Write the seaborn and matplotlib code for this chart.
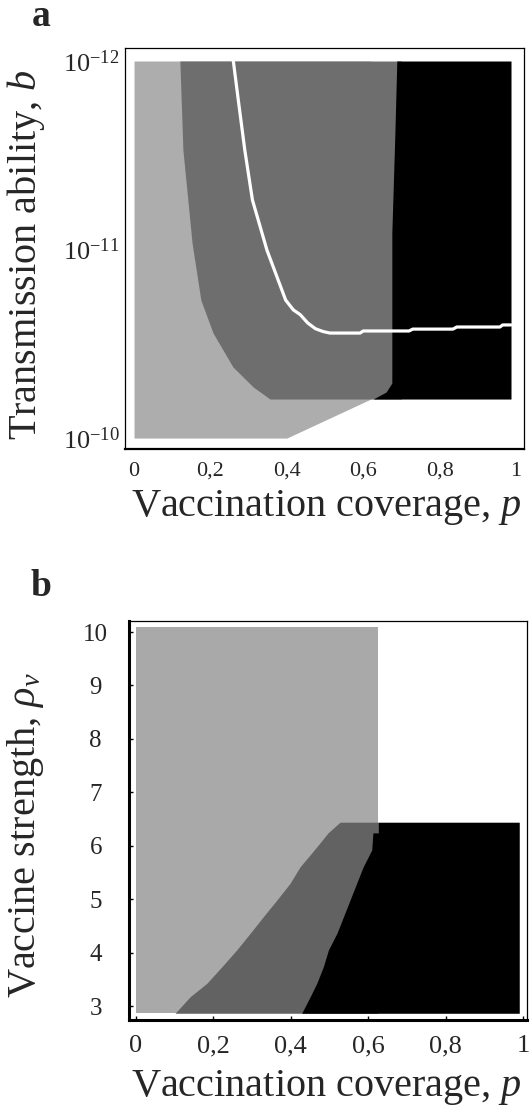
import numpy as np
import matplotlib
matplotlib.use("Agg")
import matplotlib.pyplot as plt
from matplotlib.ticker import NullLocator
import seaborn as sns

# ---------------- data ----------------
# panel a : regions in (p, log10 b)
a_light_e = [-12.0, -10.207, -10.0]
a_light_right = [0.62, 0.62, 0.40]
a_dark_e = [-12.0, -11.528, -11.034, -10.732, -10.557, -10.377, -10.271, -10.207]
a_dark_left = [0.120, 0.128, 0.152, 0.175, 0.207, 0.259, 0.312, 0.356]
a_dark_right = 0.70
a_black_e = [-12.0, -11.618, -11.088, -10.292, -10.244, -10.207]
a_black_left = [0.688, 0.683, 0.675, 0.675, 0.660, 0.626]
a_black_right = 0.987
# white threshold curve
a_curve_p = [0.26, 0.273, 0.29, 0.31, 0.348, 0.397, 0.417, 0.435, 0.455, 0.475,
             0.495, 0.513, 0.592, 0.60, 0.72, 0.73, 0.835, 0.845, 0.958, 0.965, 0.987]
a_curve_e = [-12.0, -11.793, -11.528, -11.263, -10.997, -10.732, -10.68, -10.655,
             -10.61, -10.58, -10.565, -10.557, -10.557, -10.568, -10.568, -10.578,
             -10.578, -10.589, -10.589, -10.600, -10.600]

# panel b : regions in (p, rho_v)
b_light_rho = [2.87, 10.1]
b_light_right = 0.625
b_dark_rho = [2.864, 3.174, 3.425, 3.736, 4.048, 4.361, 4.672, 4.984, 5.297, 5.607,
              5.83, 6.05, 6.24, 6.44]
b_dark_left = [0.101, 0.140, 0.183, 0.222, 0.260, 0.295, 0.329, 0.364, 0.398, 0.424,
               0.450, 0.475, 0.496, 0.527]
b_dark_right = 0.625
b_black_rho = [2.864, 3.174, 3.425, 3.736, 4.048, 4.361, 4.672, 4.984, 5.297, 5.607,
               5.920, 6.24, 6.24, 6.44]
b_black_left = [0.428, 0.450, 0.467, 0.484, 0.497, 0.519, 0.536, 0.553, 0.570, 0.587,
                0.609, 0.612, 0.625, 0.625]
b_black_right = 0.99

p_ticks = [0, 0.2, 0.4, 0.6, 0.8, 1]
p_labels = ["0", "0,2", "0,4", "0,6", "0,8", "1"]
b_ticks = [1e-12, 1e-11, 1e-10]
b_labels = [r"$10^{-12}$", r"$10^{-11}$", r"$10^{-10}$"]
rho_ticks = [3, 4, 5, 6, 7, 8, 9, 10]

LIGHT_A, DARK_A = "#adadad", "#6e6e6e"
LIGHT_B, DARK_B = "#a9a9a9", "#626262"

sns.set_theme(style="ticks")
plt.rcParams["font.family"] = ["Liberation Serif", "DejaVu Serif"]
plt.rcParams["mathtext.fontset"] = "custom"
plt.rcParams["mathtext.rm"] = "Liberation Serif"
plt.rcParams["mathtext.it"] = "Liberation Serif:italic"

fig = plt.figure(figsize=(5.29, 11.10), dpi=100)
W, H = 529, 1110

# ---------------- panel a ----------------
ax = fig.add_axes([125 / W, 1 - 449 / H, 399 / W, 401 / H])
ax.set_yscale("log")
le = 10.0 ** np.array(a_light_e)
ax.fill_betweenx(le, 0, a_light_right, color=LIGHT_A, lw=0)
de = 10.0 ** np.array(a_dark_e)
ax.fill_betweenx(de, a_dark_left, a_dark_right, color=DARK_A, lw=0)
be = 10.0 ** np.array(a_black_e)
ax.fill_betweenx(be, a_black_left, a_black_right, color="black", lw=0)
sns.lineplot(x=a_curve_p, y=10.0 ** np.array(a_curve_e), color="white", lw=2.3, ax=ax)

ax.set_xlim(-0.0236, 1.021)
ax.set_ylim(10 ** -9.942, 10 ** -12.069)
ax.set_xticks(p_ticks)
ax.set_xticklabels(p_labels, fontsize=16)
ax.set_yticks(b_ticks)
ax.set_yticklabels(b_labels, fontsize=19)
ax.yaxis.set_minor_locator(NullLocator())
ax.tick_params(axis="x", length=0, pad=9)
ax.tick_params(axis="y", length=0, pad=4)
for s in ax.spines.values():
    s.set_linewidth(0.9)
    s.set_color("black")
ax.spines["bottom"].set_linewidth(1.6)
ax.set_xlabel("Vaccination coverage, $p$", fontsize=29)
ax.xaxis.set_label_coords(0.504, -0.147)
ax.xaxis.label.set_va("center")
ax.set_ylabel("Transmission ability, $b$", fontsize=29)
ax.yaxis.set_label_coords(-0.248, 0.484)
ax.yaxis.label.set_va("center")
fig.text(41 / W, 1 - 17 / H, "a", fontsize=27, fontweight="bold", ha="center", va="center")

# ---------------- panel b ----------------
ax = fig.add_axes([129 / W, 1 - 1020 / H, 398 / W, 399 / H])
ax.fill_betweenx(b_light_rho, 0, b_light_right, color=LIGHT_B, lw=0)
ax.fill_betweenx(b_dark_rho, b_dark_left, b_dark_right, color=DARK_B, lw=0)
ax.fill_betweenx(b_black_rho, b_black_left, b_black_right, color="black", lw=0)

ax.set_xlim(-0.018, 1.010)
ax.set_ylim(2.738, 10.206)
ax.set_xticks(p_ticks)
ax.set_xticklabels(p_labels, fontsize=19)
ax.set_yticks(rho_ticks)
ax.set_yticklabels([str(v) for v in rho_ticks], fontsize=18)
for lbl in ax.get_yticklabels():
    lbl.set_ha("center")
ax.tick_params(axis="both", direction="in", length=3, width=1, color="black")
ax.tick_params(axis="x", pad=11)
ax.tick_params(axis="y", pad=24)
for s in ax.spines.values():
    s.set_linewidth(0.9)
    s.set_color("black")
ax.spines["left"].set_linewidth(2.2)
ax.spines["bottom"].set_linewidth(2.2)
ax.set_xlabel("Vaccination coverage, $p$", fontsize=29)
ax.xaxis.set_label_coords(0.497, -0.170)
ax.xaxis.label.set_va("center")
ax.set_ylabel(r"Vaccine strength, $\rho_v$", fontsize=29)
ax.yaxis.set_label_coords(-0.259, 0.464)
ax.yaxis.label.set_va("center")
fig.text(41 / W, 1 - 586 / H, "b", fontsize=27, fontweight="bold", ha="center", va="center")

fig.savefig("out.png", dpi=100)
